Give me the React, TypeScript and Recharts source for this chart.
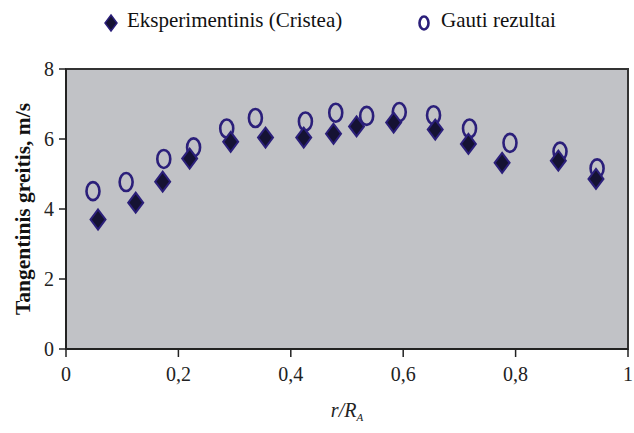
import React from "react";
import {
  ScatterChart,
  Scatter,
  XAxis,
  YAxis,
  CartesianGrid,
  ReferenceArea,
} from "recharts";

// Eksperimentinis (Cristea)
const expR = [0.057, 0.124, 0.172, 0.22, 0.293, 0.355, 0.423, 0.476, 0.517, 0.583, 0.657, 0.716, 0.776, 0.876, 0.943];
const expV = [3.7, 4.18, 4.78, 5.44, 5.92, 6.04, 6.04, 6.15, 6.36, 6.47, 6.27, 5.86, 5.32, 5.38, 4.86];

// Gauti rezultai
const calcR = [0.048, 0.107, 0.174, 0.227, 0.286, 0.337, 0.426, 0.48, 0.535, 0.593, 0.654, 0.718, 0.79, 0.879, 0.945];
const calcV = [4.51, 4.77, 5.43, 5.76, 6.3, 6.6, 6.5, 6.75, 6.66, 6.77, 6.68, 6.3, 5.89, 5.64, 5.16];

const xTicks = [0, 0.2, 0.4, 0.6, 0.8, 1];
const yTicks = [0, 2, 4, 6, 8];

const expData = expR.map((r, i) => ({ r, v: expV[i] }));
const calcData = calcR.map((r, i) => ({ r, v: calcV[i] }));

const FONT = "'Times New Roman', 'Liberation Serif', Times, serif";
const NAVY = "#2b1f7a";

const Diamond = (props: any) => {
  const { cx, cy } = props;
  if (cx == null || cy == null) return null;
  return (
    <path
      d={`M${cx},${cy - 10} L${cx + 7.5},${cy} L${cx},${cy + 10} L${cx - 7.5},${cy} Z`}
      fill="#151233"
      stroke={NAVY}
      strokeWidth={2}
    />
  );
};

const Ring = (props: any) => {
  const { cx, cy } = props;
  if (cx == null || cy == null) return null;
  return <ellipse cx={cx} cy={cy} rx={6.5} ry={9} fill="none" stroke={NAVY} strokeWidth={2.6} />;
};

const YTitle = (props: any) => {
  const vb = props.viewBox || {};
  const cy = (vb.y ?? 69) + (vb.height ?? 280) / 2;
  return (
    <text
      x={23}
      y={cy}
      transform={`rotate(-90, 23, ${cy})`}
      textAnchor="middle"
      dominantBaseline="central"
      fontFamily={FONT}
      fontSize={21.5}
      fontWeight="bold"
      fill="#111"
    >
      Tangentinis greitis, m/s
    </text>
  );
};

const XTitle = (props: any) => {
  const vb = props.viewBox || {};
  const cx = (vb.x ?? 66) + (vb.width ?? 562) / 2;
  return (
    <text x={cx} y={417} textAnchor="middle" fontFamily={FONT} fontSize={20} fill="#222" fontStyle="italic">
      r/R
      <tspan fontSize={11} dy={4}>
        A
      </tspan>
    </text>
  );
};

const fmt = (v: number) => String(v).replace(".", ",");

export default function App() {
  return (
    <div style={{ position: "absolute", left: 0, top: 0, width: 634, height: 433, background: "#fff" }}>
      {/* legend */}
      <div style={{ position: "absolute", left: 0, top: 8, width: 634, height: 36, fontFamily: FONT, fontSize: 21, color: "#111", zIndex: 2 }}>
        <svg width={16} height={20} style={{ position: "absolute", left: 103, top: 5 }}>
          <path d="M8,2 L14,10 L8,18 L2,10 Z" fill="#151233" stroke={NAVY} strokeWidth={1.5} />
        </svg>
        <span style={{ position: "absolute", left: 127, top: 0 }}>Eksperimentinis (Cristea)</span>
        <svg width={16} height={22} style={{ position: "absolute", left: 416, top: 4 }}>
          <ellipse cx={8} cy={11} rx={4.5} ry={6.5} fill="none" stroke={NAVY} strokeWidth={2.6} />
        </svg>
        <span style={{ position: "absolute", left: 441, top: 0 }}>Gauti rezultai</span>
      </div>
      <ScatterChart width={634} height={433} margin={{ top: 69, right: 6, bottom: 0, left: 0 }}>
        <CartesianGrid horizontal={false} vertical={false} fill="#c1c2c6" />
        <XAxis
          type="number"
          dataKey="r"
          domain={[0, 1]}
          ticks={xTicks}
          tickFormatter={fmt}
          height={84}
          tickSize={8}
          tickMargin={10}
          axisLine={{ stroke: "#222", strokeWidth: 2 }}
          tickLine={{ stroke: "#222", strokeWidth: 1.5 }}
          tick={{ fontFamily: FONT, fontSize: 20, fill: "#222" }}
          label={<XTitle />}
        />
        <YAxis
          type="number"
          dataKey="v"
          domain={[0, 8]}
          ticks={yTicks}
          width={66}
          tickSize={7}
          tickMargin={5}
          axisLine={{ stroke: "#222", strokeWidth: 2 }}
          tickLine={{ stroke: "#222", strokeWidth: 1.5 }}
          tick={{ fontFamily: FONT, fontSize: 20, fill: "#222" }}
          label={<YTitle />}
        />
        <ReferenceArea x1={0} x2={1} y1={0} y2={8} fill="none" stroke="#333" strokeWidth={2} />
        <Scatter name="Gauti rezultai" data={calcData} shape={<Ring />} isAnimationActive={false} />
        <Scatter name="Eksperimentinis (Cristea)" data={expData} shape={<Diamond />} isAnimationActive={false} />
      </ScatterChart>
    </div>
  );
}
